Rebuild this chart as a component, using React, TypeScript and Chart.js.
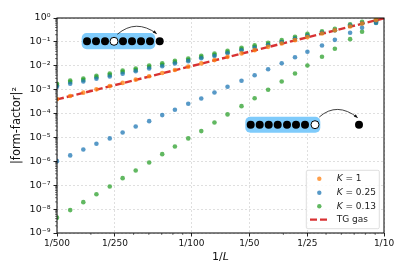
import React, { useEffect, useRef } from "react";
import { Chart, registerables } from "chart.js";

Chart.register(...registerables);

const sizesL = [500, 427, 365, 312, 266, 228, 195, 166, 142, 122, 104, 89, 76, 65, 55, 47, 40, 34, 29, 25, 21, 18, 15, 13, 11];

const k1Values = [4.0e-4, 5.4e-4, 7.5e-4, 1.03e-3, 1.41e-3, 1.92e-3, 2.63e-3, 3.63e-3, 4.96e-3, 6.7e-3, 9.2e-3, 1.26e-2, 1.73e-2, 2.37e-2, 3.3e-2, 4.5e-2, 6.2e-2, 8.6e-2, 0.118, 0.158, 0.225, 0.305, 0.44, 0.585, 0.81];
const k025Upper = [1.32e-3, 1.77e-3, 2.2e-3, 2.86e-3, 3.56e-3, 4.62e-3, 5.94e-3, 7.7e-3, 9.6e-3, 1.25e-2, 1.56e-2, 2.06e-2, 2.57e-2, 3.33e-2, 4.45e-2, 5.72e-2, 7.4e-2, 9.7e-2, 0.135, 0.18, 0.243, 0.306, 0.485, 0.6, 0.73];
const k025Lower = [1.02e-6, 1.77e-6, 3.15e-6, 5.45e-6, 9.1e-6, 1.62e-5, 2.88e-5, 4.8e-5, 8.6e-5, 1.44e-4, 2.57e-4, 4.28e-4, 7.6e-4, 1.32e-3, 2.36e-3, 4.04e-3, 7.2e-3, 1.28e-2, 2.29e-2, 3.85e-2, 7.1e-2, 0.122, 0.24, 0.389, 0.62];
const k013Upper = [1.77e-3, 2.43e-3, 2.94e-3, 3.82e-3, 4.76e-3, 6.36e-3, 7.7e-3, 1.03e-2, 1.28e-2, 1.62e-2, 2.02e-2, 2.62e-2, 3.27e-2, 4.24e-2, 5.66e-2, 7.28e-2, 9.2e-2, 0.118, 0.163, 0.218, 0.28, 0.353, 0.55, 0.69, 0.82];
const k013Middle = [1.53e-3, 2.1e-3, 2.54e-3, 3.3e-3, 4.1e-3, 5.5e-3, 6.66e-3, 8.9e-3, 1.11e-2, 1.4e-2, 1.75e-2, 2.27e-2, 2.83e-2, 3.67e-2, 4.9e-2, 6.3e-2, 7.96e-2, 0.102, 0.141, 0.189, 0.242, 0.305, 0.476, 0.6, 0.71];
const k013Lower = [4.4e-9, 9.1e-9, 1.96e-8, 4.2e-8, 8.9e-8, 1.98e-7, 4.16e-7, 9.0e-7, 2.0e-6, 4.2e-6, 9.1e-6, 1.84e-5, 4.2e-5, 9.2e-5, 2.04e-4, 4.4e-4, 9.9e-4, 2.2e-3, 4.76e-3, 1.03e-2, 2.38e-2, 5.15e-2, 0.13, 0.265, 0.63];

const gasL = [500, 10];
const gasValues = [3.9e-4, 0.97];

const xMajorTicks = [0.002, 0.004, 0.01, 0.02, 0.04, 0.1];
const xMajorLabels = ["1/500", "1/250", "1/100", "1/50", "1/25", "1/10"];
const xMinorTicks = [0.003, 0.005, 0.006, 0.007, 0.008, 0.009, 0.03, 0.05, 0.06, 0.07, 0.08, 0.09];
const yExponents = [0, -1, -2, -3, -4, -5, -6, -7, -8, -9];
const yLabels = ["10⁰", "10⁻¹", "10⁻²", "10⁻³", "10⁻⁴", "10⁻⁵", "10⁻⁶", "10⁻⁷", "10⁻⁸", "10⁻⁹"];

const FONT = "'DejaVu Sans'";
const ORANGE = "rgba(255,127,14,0.75)";
const BLUE = "rgba(31,119,180,0.75)";
const GREEN = "rgba(44,160,44,0.75)";
const RED = "rgba(214,39,40,0.95)";

const pts = (ls: number[], vs: number[]) => vs.map((v, i) => ({ x: 1 / ls[i], y: v }));

function chain(ctx: CanvasRenderingContext2D, box: number[], xs: number[], hole: number, y: number) {
  ctx.fillStyle = "#7fcbfb";
  ctx.beginPath();
  ctx.roundRect(box[0], box[1], box[2] - box[0], box[3] - box[1], 5);
  ctx.fill();
  xs.forEach((x, i) => {
    ctx.beginPath();
    ctx.arc(x, y, 4, 0, Math.PI * 2);
    if (i === hole) {
      ctx.fillStyle = "#fff";
      ctx.fill();
      ctx.strokeStyle = "#000";
      ctx.lineWidth = 1;
      ctx.stroke();
    } else {
      ctx.fillStyle = "#000";
      ctx.fill();
    }
  });
}

function hop(ctx: CanvasRenderingContext2D, x0: number, y0: number, cx: number, cy: number, x1: number, y1: number) {
  ctx.strokeStyle = "#111";
  ctx.lineWidth = 0.8;
  ctx.beginPath();
  ctx.moveTo(x0, y0);
  ctx.quadraticCurveTo(cx, cy, x1, y1);
  ctx.stroke();
  const a = Math.atan2(y1 - cy, x1 - cx);
  ctx.fillStyle = "#111";
  ctx.beginPath();
  ctx.moveTo(x1, y1);
  ctx.lineTo(x1 - 4 * Math.cos(a - 0.4), y1 - 4 * Math.sin(a - 0.4));
  ctx.lineTo(x1 - 4 * Math.cos(a + 0.4), y1 - 4 * Math.sin(a + 0.4));
  ctx.closePath();
  ctx.fill();
}

const decorations = {
  id: "decorations",
  afterDatasetsDraw(chart: any) {
    const { ctx, chartArea: a, scales } = chart;
    const { x, y } = scales;
    ctx.save();

    // minor ticks
    ctx.strokeStyle = "#222";
    ctx.lineWidth = 0.6;
    ctx.beginPath();
    xMinorTicks.forEach((t) => {
      const p = x.getPixelForValue(t);
      ctx.moveTo(p, a.bottom);
      ctx.lineTo(p, a.bottom + 2);
    });
    yExponents.slice(1).forEach((e) => {
      for (let m = 2; m <= 9; m++) {
        const p = y.getPixelForValue(m * Math.pow(10, e));
        ctx.moveTo(a.left, p);
        ctx.lineTo(a.left - 2, p);
      }
    });
    ctx.stroke();

    // pictograms
    chain(ctx, [81.7, 33, 155.3, 49.3], [87, 96, 105, 114, 123, 132, 141, 150], 3, 41.3);
    ctx.fillStyle = "#000";
    ctx.beginPath();
    ctx.arc(159.7, 41.3, 4, 0, Math.PI * 2);
    ctx.fill();
    hop(ctx, 117.3, 34.3, 136, 18.5, 156.7, 33.7);

    chain(ctx, [245.3, 116.7, 320.3, 132.7], [250.7, 259.7, 268.7, 277.7, 287, 296, 305, 315], 7, 124.7);
    ctx.fillStyle = "#000";
    ctx.beginPath();
    ctx.arc(359, 124.7, 4, 0, Math.PI * 2);
    ctx.fill();
    hop(ctx, 319.3, 117, 337, 101.5, 357.7, 117.7);

    // frame
    ctx.strokeStyle = "#000";
    ctx.lineWidth = 1;
    ctx.strokeRect(a.left, a.top, a.right - a.left, a.bottom - a.top);

    // legend
    ctx.fillStyle = "rgba(255,255,255,0.85)";
    ctx.strokeStyle = "#d5d5d5";
    ctx.lineWidth = 0.8;
    ctx.beginPath();
    ctx.roundRect(306.3, 170.3, 73, 58.4, 1.5);
    ctx.fill();
    ctx.stroke();
    const rows = [178.7, 192.7, 206.3, 219.7];
    const italicLabel = (prefix: string, rest: string, yy: number) => {
      ctx.fillStyle = "#222";
      ctx.textBaseline = "middle";
      ctx.textAlign = "left";
      ctx.font = `italic 9px ${FONT}`;
      ctx.fillText(prefix, 336.7, yy);
      const w = ctx.measureText(prefix).width;
      ctx.font = `9px ${FONT}`;
      ctx.fillText(rest, 336.7 + w, yy);
    };
    const entries = chart.data.datasets.filter((d: any) => d.inLegend);
    entries.forEach((d: any, i: number) => {
      const yy = rows[i];
      if (d.showLine) {
        ctx.strokeStyle = d.borderColor;
        ctx.lineWidth = 2.2;
        ctx.setLineDash([7, 3]);
        ctx.beginPath();
        ctx.moveTo(310, yy);
        ctx.lineTo(327.3, yy);
        ctx.stroke();
        ctx.setLineDash([]);
        ctx.fillStyle = "#222";
        ctx.textBaseline = "middle";
        ctx.textAlign = "left";
        ctx.font = `9px ${FONT}`;
        ctx.fillText(d.label, 336.7, yy);
      } else {
        ctx.fillStyle = d.backgroundColor;
        ctx.beginPath();
        ctx.arc(319.3, yy, 2.2, 0, Math.PI * 2);
        ctx.fill();
        italicLabel(d.label.charAt(0), d.label.slice(1), yy);
      }
    });

    // x axis title with the italic L
    const mid = (a.left + a.right) / 2;
    ctx.fillStyle = "#111";
    ctx.textBaseline = "middle";
    ctx.textAlign = "left";
    ctx.font = `11px ${FONT}`;
    const w1 = ctx.measureText("1/").width;
    ctx.font = `italic 11px ${FONT}`;
    const w2 = ctx.measureText("L").width;
    const sx = mid - (w1 + w2) / 2;
    ctx.font = `11px ${FONT}`;
    ctx.fillText("1/", sx, 257.5);
    ctx.font = `italic 11px ${FONT}`;
    ctx.fillText("L", sx + w1, 257.5);
    ctx.restore();
  },
};

export default function App() {
  const ref = useRef<HTMLCanvasElement>(null);

  useEffect(() => {
    const marker = (color: string) => ({
      showLine: false,
      backgroundColor: color,
      borderColor: color,
      borderWidth: 0,
      pointRadius: 2.3,
    });
    const chart = new Chart(ref.current as HTMLCanvasElement, {
      type: "scatter",
      plugins: [decorations],
      data: {
        datasets: [
          { label: "K = 1", inLegend: true, data: pts(sizesL, k1Values), ...marker(ORANGE) },
          { label: "K = 0.25", inLegend: true, data: pts(sizesL, k025Upper), ...marker(BLUE) },
          { label: "K = 0.25, lower", data: pts(sizesL, k025Lower), ...marker(BLUE) },
          { label: "K = 0.13", inLegend: true, data: pts(sizesL, k013Upper), ...marker(GREEN) },
          { label: "K = 0.13, middle", data: pts(sizesL, k013Middle), ...marker(GREEN) },
          { label: "K = 0.13, lower", data: pts(sizesL, k013Lower), ...marker(GREEN) },
          {
            label: "TG gas",
            inLegend: true,
            data: pts(gasL, gasValues),
            showLine: true,
            borderColor: RED,
            backgroundColor: RED,
            borderWidth: 2.4,
            borderDash: [7, 3],
            pointRadius: 0,
          },
        ] as any,
      },
      options: {
        animation: false,
        responsive: false,
        layout: { padding: { top: 18, right: 21, left: 0, bottom: 0 } },
        plugins: { legend: { display: false }, tooltip: { enabled: false } },
        scales: {
          x: {
            type: "logarithmic",
            min: 0.002,
            max: 0.1,
            afterBuildTicks: (s: any) => {
              s.ticks = xMajorTicks.map((value) => ({ value }));
            },
            afterFit: (s: any) => {
              s.height = 37;
            },
            grid: {
              color: "rgba(170,170,170,0.38)",
              lineWidth: 1,
              tickLength: 3.5,
              tickColor: "#222",
              tickBorderDash: [],
              drawTicks: true,
            },
            border: { display: false, dash: [2, 2] },
            ticks: {
              autoSkip: false,
              maxRotation: 0,
              minRotation: 0,
              padding: 2,
              color: "#111",
              font: { family: FONT, size: 9 },
              callback: (v: any) => {
                const i = xMajorTicks.findIndex((t) => Math.abs(t - v) < 1e-9);
                return i >= 0 ? xMajorLabels[i] : "";
              },
            },
          },
          y: {
            type: "logarithmic",
            min: 1e-9,
            max: 1,
            afterBuildTicks: (s: any) => {
              s.ticks = yExponents.map((e) => ({ value: Math.pow(10, e) }));
            },
            afterFit: (s: any) => {
              s.width = 57;
            },
            grid: {
              color: "rgba(170,170,170,0.38)",
              lineWidth: 1,
              tickLength: 3.5,
              tickColor: "#222",
              tickBorderDash: [],
            },
            border: { display: false, dash: [2, 2] },
            title: {
              display: true,
              text: "|form-factor|²",
              color: "#111",
              padding: { top: 10, bottom: 0 },
              font: { family: FONT, size: 11.5, weight: "normal" },
            },
            ticks: {
              autoSkip: false,
              padding: 3,
              color: "#111",
              font: { family: FONT, size: 9.5 },
              callback: (v: any) => {
                const i = yExponents.indexOf(Math.round(Math.log10(v)));
                return i >= 0 ? yLabels[i] : "";
              },
            },
          },
        },
      } as any,
    });
    return () => chart.destroy();
  }, []);

  return (
    <div style={{ position: "fixed", left: 0, top: 0, width: 405, height: 270, background: "#fff" }}>
      <canvas ref={ref} width={405} height={270} style={{ display: "block" }} />
    </div>
  );
}
